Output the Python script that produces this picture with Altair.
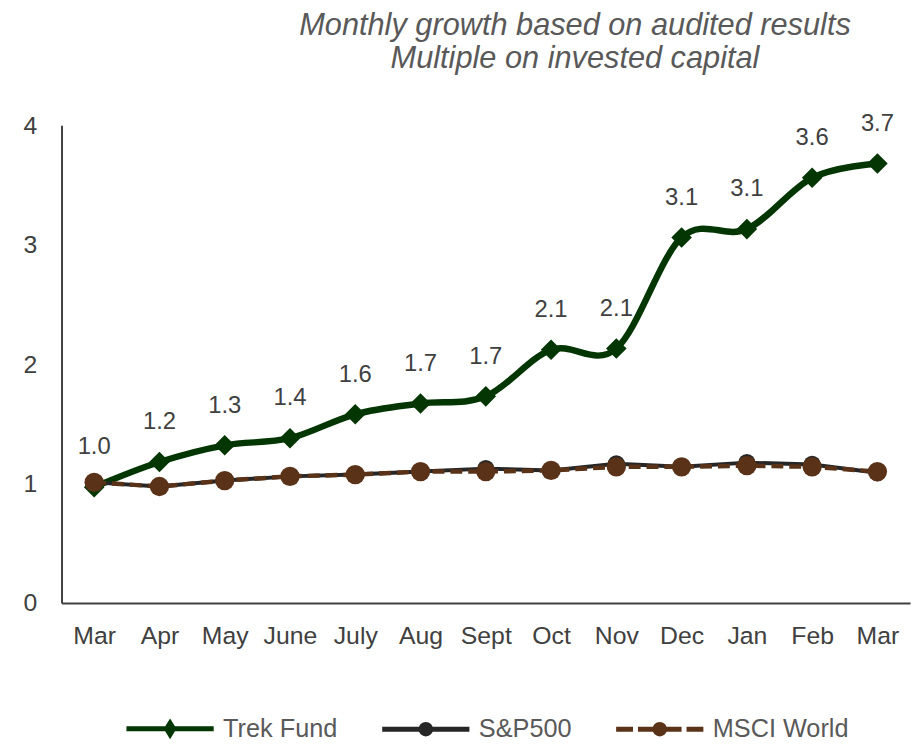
import altair as alt
import pandas as pd

months = ["Mar", "Apr", "May", "June", "July", "Aug", "Sept", "Oct", "Nov", "Dec", "Jan", "Feb", "Mar"]
series = ["Trek Fund", "S&P500", "MSCI World"]
trek = [0.97, 1.18, 1.32, 1.38, 1.58, 1.67, 1.73, 2.12, 2.13, 3.06, 3.13, 3.56, 3.68]
sp500 = [1.01, 0.975, 1.025, 1.06, 1.075, 1.10, 1.125, 1.11, 1.165, 1.14, 1.175, 1.16, 1.09]
msci = [1.01, 0.975, 1.025, 1.06, 1.075, 1.10, 1.10, 1.11, 1.14, 1.14, 1.15, 1.14, 1.10]
y_ticks = [0, 1, 2, 3, 4]

colors = ["#033603", "#262626", "#5A3218"]
FONT = "Liberation Sans"

rows = []
for name, vals in zip(series, [trek, sp500, msci]):
    for i, v in enumerate(vals):
        rows.append({"series": name, "idx": i, "value": v})
df = pd.DataFrame(rows)

label_expr = "[" + ",".join("'" + m + "'" for m in months) + "][datum.value]"

x_enc = alt.X(
    "idx:O",
    scale=alt.Scale(type="point", padding=0.5),
    axis=alt.Axis(
        labelExpr=label_expr, labelAngle=0, ticks=False, grid=False, title=None,
        labelFontSize=25, labelColor="#404040", labelFont=FONT, labelPadding=21,
        domainColor="#404040", domainWidth=2,
    ),
)
y_enc = alt.Y(
    "value:Q",
    scale=alt.Scale(domain=[0, 4], nice=False),
    axis=alt.Axis(
        values=y_ticks, ticks=False, grid=False, title=None,
        labelFontSize=25, labelColor="#404040", labelFont=FONT, labelPadding=25,
        domainColor="#404040", domainWidth=2,
    ),
)

base = alt.Chart(df)

layers = []
# Trek Fund
layers.append(base.transform_filter(alt.datum.series == series[0]).mark_line(
    color=colors[0], strokeWidth=6.5, interpolate="cardinal", tension=0, strokeCap="round"
).encode(x=x_enc, y=y_enc))
layers.append(base.transform_filter(alt.datum.series == series[0]).mark_point(
    shape="diamond", filled=True, color=colors[0], size=430, opacity=1
).encode(x=x_enc, y=y_enc))
layers.append(base.transform_filter(alt.datum.series == series[0]).mark_text(
    dy=-40, fontSize=24, color="#404040", font=FONT
).encode(x=x_enc, y=y_enc, text=alt.Text("value:Q", format=".1f")))
# S&P500
layers.append(base.transform_filter(alt.datum.series == series[1]).mark_line(
    color=colors[1], strokeWidth=4
).encode(x=x_enc, y=y_enc))
layers.append(base.transform_filter(alt.datum.series == series[1]).mark_point(
    shape="circle", filled=True, color=colors[1], size=300, opacity=1
).encode(x=x_enc, y=y_enc))
# MSCI World
layers.append(base.transform_filter(alt.datum.series == series[2]).mark_line(
    color=colors[2], strokeWidth=4.5, strokeDash=[12, 6]
).encode(x=x_enc, y=y_enc))
layers.append(base.transform_filter(alt.datum.series == series[2]).mark_point(
    shape="circle", filled=True, color=colors[2], size=380, opacity=1
).encode(x=x_enc, y=y_enc))

# legend symbols: line + marker glyphs
def circ(r):
    return f"M-{r},0A{r},{r} 0 1,1 {r},0A{r},{r} 0 1,1 -{r},0Z"

paths = [
    "M-1,0L1,0M0,-0.13L0.08,0L0,0.13L-0.08,0Z",
    "M-1,0L1,0" + circ(0.11),
    "M-1,0L-0.614,0M-0.5,0L0.5,0M0.614,0L1,0" + circ(0.11),
]
leg = alt.Legend(
    title=None, orient="none", direction="horizontal", legendX=63, legendY=562,
    symbolSize=7744, symbolStrokeWidth=5, labelFontSize=25.5, labelColor="#595959",
    labelFont=FONT, labelOffset=7, columnPadding=34, padding=0,
)
layers.append(base.transform_filter("false").mark_point(filled=True, opacity=1, strokeWidth=5).encode(
    x=x_enc, y=y_enc,
    fill=alt.Fill("series:N", scale=alt.Scale(domain=series, range=colors), legend=leg),
    stroke=alt.Stroke("series:N", scale=alt.Scale(domain=series, range=colors), legend=leg),
    shape=alt.Shape("series:N", scale=alt.Scale(domain=series, range=paths), legend=leg),
))

chart = alt.layer(*layers).properties(
    width=856, height=482,
    padding={"left": 54, "top": 115, "right": 6, "bottom": 138},
    autosize=alt.AutoSizeParams(type="none"),
    title=alt.TitleParams(
        text=["Monthly growth based on audited results", "Multiple on invested capital"],
        font=FONT, fontSize=31, fontStyle="italic", fontWeight="normal", color="#595959",
        anchor="middle", dx=90, offset=37, lineHeight=34,
    ),
).configure_view(strokeWidth=0)

chart.save("out.html", embed_options={"renderer": "svg", "actions": False})
